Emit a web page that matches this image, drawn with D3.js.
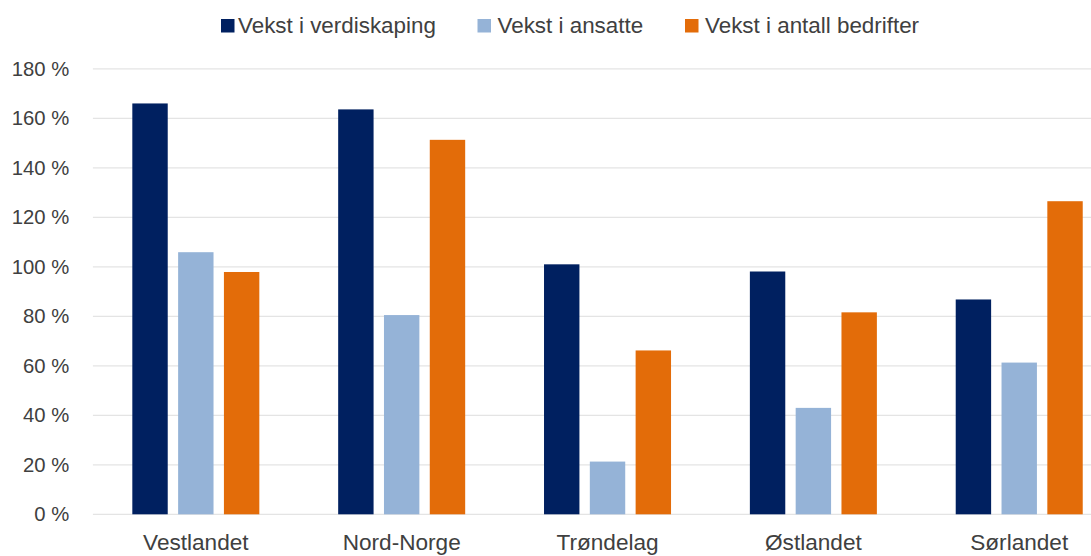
<!DOCTYPE html>
<html>
<head>
<meta charset="utf-8">
<script src="https://cdn.jsdelivr.net/npm/d3@7"></script>
<style>
  body { margin: 0; background: #fff; overflow: hidden; }
  text { font-family: "Liberation Sans", Arial, sans-serif; fill: #404040; }
</style>
</head>
<body>
<div id="chart"></div>
<script>
// chart data
var regions = ["Vestlandet", "Nord-Norge", "Trøndelag", "Østlandet", "Sørlandet"];
var seriesNames = ["Vekst i verdiskaping", "Vekst i ansatte", "Vekst i antall bedrifter"];
var verdiskaping = [166, 163.6, 101, 98.1, 86.8];
var ansatte = [105.9, 80.5, 21.3, 43, 61.3];
var bedrifter = [97.9, 151.3, 66.2, 81.6, 126.5];
var yTicks = [0, 20, 40, 60, 80, 100, 120, 140, 160, 180];
var colors = ["#002060", "#95B3D7", "#E36C09"];

var svgWidth = 1091;
var svgHeight = 556;

// plot area runs a little past the right edge of the picture
var margin = { top: 68.8, left: 92.9 };
var chartWidth = 5 * 205.85;
var chartHeight = 514.3 - margin.top;

var svg = d3.select("#chart")
  .append("svg")
  .attr("width", svgWidth)
  .attr("height", svgHeight);

var chartGroup = svg.append("g")
  .attr("transform", `translate(${margin.left}, ${margin.top})`);

// build rows from the arrays
var rows = regions.map(function (r, i) {
  return { region: r, values: [verdiskaping[i], ansatte[i], bedrifter[i]] };
});

var xScale = d3.scaleBand()
  .domain(regions)
  .range([0, chartWidth])
  .paddingInner(0.383)
  .paddingOuter(0.1915);

var xInner = d3.scaleBand()
  .domain(d3.range(seriesNames.length))
  .range([0, xScale.bandwidth()])
  .paddingInner(0.227);

var yScale = d3.scaleLinear()
  .domain([0, 180])
  .range([chartHeight, 0]);

// gridlines
chartGroup.append("g")
  .selectAll("line")
  .data(yTicks)
  .enter()
  .append("line")
  .attr("x1", 0)
  .attr("x2", svgWidth - margin.left)
  .attr("y1", d => yScale(d))
  .attr("y2", d => yScale(d))
  .attr("stroke", "#e4e4e4")
  .attr("stroke-width", 1.3);

// y axis labels
var leftAxis = d3.axisLeft(yScale)
  .tickValues(yTicks)
  .tickSize(0)
  .tickPadding(23.6)
  .tickFormat(d => d + " %");

var yAxis = chartGroup.append("g").call(leftAxis);
yAxis.select(".domain").remove();
yAxis.selectAll("text")
  .attr("font-size", 20.3)
  .attr("fill", "#404040")
  .attr("font-family", "Liberation Sans, Arial, sans-serif");

// bars
var groups = chartGroup.append("g")
  .selectAll("g")
  .data(rows)
  .enter()
  .append("g")
  .attr("transform", d => `translate(${xScale(d.region)}, 0)`);

groups.selectAll("rect")
  .data(d => d.values)
  .enter()
  .append("rect")
  .attr("x", (d, i) => xInner(i))
  .attr("width", xInner.bandwidth())
  .attr("y", d => yScale(d))
  .attr("height", d => chartHeight - yScale(d))
  .attr("fill", (d, i) => colors[i]);

// category labels (nudged up a bit so descenders stay inside)
var bottomAxis = d3.axisBottom(xScale).tickSize(0).tickPadding(20);
var xAxis = chartGroup.append("g")
  .attr("transform", `translate(0, ${chartHeight})`)
  .call(bottomAxis);
xAxis.select(".domain").remove();
xAxis.selectAll("text")
  .attr("font-size", 22.6)
  .attr("fill", "#404040")
  .attr("font-family", "Liberation Sans, Arial, sans-serif");

// legend
var legendX = [221, 477.5, 685];
var legend = svg.append("g")
  .selectAll("g")
  .data(seriesNames)
  .enter()
  .append("g")
  .attr("transform", (d, i) => `translate(${legendX[i]}, 0)`);

legend.append("rect")
  .attr("x", 0)
  .attr("y", 19)
  .attr("width", 13.5)
  .attr("height", 13.5)
  .attr("fill", (d, i) => colors[i]);

legend.append("text")
  .attr("x", (d, i) => i == 0 ? 17 : 20)
  .attr("y", 33)
  .attr("font-size", 22.4)
  .text(d => d);
</script>
</body>
</html>
